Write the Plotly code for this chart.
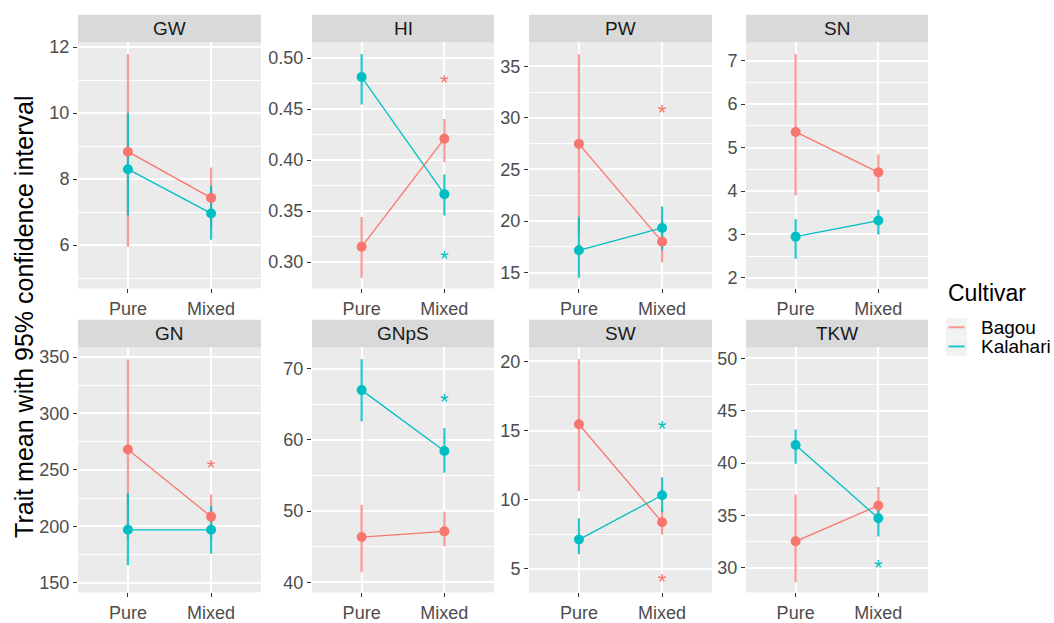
import plotly.graph_objects as go

W, H = 1054, 623

traits = ["GW", "HI", "PW", "SN", "GN", "GNpS", "SW", "TKW"]
systems = ["Pure", "Mixed"]
cultivars = ["Bagou", "Kalahari"]
colors = {"Bagou": "#F8766D", "Kalahari": "#00BFC4"}
bar_colors = {"Bagou": "rgba(248,118,109,0.72)", "Kalahari": "rgba(0,191,196,0.85)"}

# means and 95% CI (Pure, Mixed)
bagou_mean = {"GW": [8.83, 7.43], "HI": [0.315, 0.421], "PW": [27.48, 18.0], "SN": [5.36, 4.43],
              "GN": [268, 208.5], "GNpS": [46.35, 47.15], "SW": [15.45, 8.36], "TKW": [32.51, 35.94]}
bagou_lo = {"GW": [5.95, 6.5], "HI": [0.2845, 0.3978], "PW": [18.8, 16.0], "SN": [3.90, 3.98],
            "GN": [188, 189], "GNpS": [41.4, 45.05], "SW": [10.6, 7.46], "TKW": [28.59, 34.2]}
bagou_hi = {"GW": [11.78, 8.35], "HI": [0.3443, 0.4402], "PW": [36.17, 20.0], "SN": [7.15, 4.84],
            "GN": [348, 228.2], "GNpS": [50.9, 49.9], "SW": [20.16, 9.3], "TKW": [36.98, 37.7]}
kal_mean = {"GW": [8.3, 6.96], "HI": [0.4814, 0.3666], "PW": [17.16, 19.33], "SN": [2.95, 3.32],
            "GN": [196.8, 196.8], "GNpS": [67.0, 58.44], "SW": [7.1, 10.31], "TKW": [41.72, 34.72]}
kal_lo = {"GW": [6.9, 6.16], "HI": [0.4546, 0.3456], "PW": [14.49, 17.17], "SN": [2.44, 3.0],
          "GN": [165.4, 175.6], "GNpS": [62.6, 55.4], "SW": [6.04, 9.12], "TKW": [39.93, 32.98]}
kal_hi = {"GW": [10.0, 7.8], "HI": [0.5039, 0.3859], "PW": [20.45, 21.4], "SN": [3.35, 3.57],
          "GN": [229.4, 217.8], "GNpS": [71.34, 61.66], "SW": [8.65, 11.62], "TKW": [43.2, 36.3]}

# significance asterisks (placed at "Mixed")
bagou_star = {"HI": 0.4745, "PW": 30.3, "GN": 250, "SW": 3.9}
kal_star = {"HI": 0.302, "GNpS": 65.1, "SW": 15.0, "TKW": 29.8}

series = {
    "Bagou": (bagou_mean, bagou_lo, bagou_hi, bagou_star),
    "Kalahari": (kal_mean, kal_lo, kal_hi, kal_star),
}

# layout geometry (pixels)
col_px = [(78, 261), (312, 494), (529, 712), (746, 928)]
row_px = [(38, 288), (348, 597)]
strip_h = 28
y_ranges = {"GW": [4.69, 12.14], "HI": [0.2742, 0.5154], "PW": [13.47, 37.32], "SN": [1.76, 7.42],
            "GN": [141.3, 358.5], "GNpS": [38.57, 73.0], "SW": [3.27, 21.02], "TKW": [27.62, 51.06]}
y_dtick = {"GW": 2, "HI": 0.05, "PW": 5, "SN": 1, "GN": 50, "GNpS": 10, "SW": 5, "TKW": 5}

FONT = "Liberation Sans, Arial, Helvetica, sans-serif"

fig = go.Figure()
layout = dict(width=W, height=H, margin=dict(l=0, r=0, t=0, b=0),
              paper_bgcolor="white", plot_bgcolor="#EBEBEB", showlegend=False,
              font=dict(family=FONT))
shapes = []
annotations = []

for i, t in enumerate(traits):
    r, c = divmod(i, 4)
    n = i + 1
    xa = "x" if n == 1 else f"x{n}"
    ya = "y" if n == 1 else f"y{n}"
    x0, x1 = col_px[c]
    y0, y1 = row_px[r]
    layout[f"xaxis{'' if n == 1 else n}"] = dict(
        domain=[x0 / W, x1 / W], anchor=ya, type="category",
        categoryorder="array", categoryarray=systems, range=[-0.6, 1.6],
        showgrid=True, gridcolor="white", gridwidth=1.6, zeroline=False,
        ticks="outside", ticklen=4, tickcolor="#333333", tickwidth=1,
        tickfont=dict(size=18, color="#4D4D4D", family=FONT), showline=False, fixedrange=True)
    layout[f"yaxis{'' if n == 1 else n}"] = dict(
        domain=[1 - y1 / H, 1 - y0 / H], anchor=xa, range=y_ranges[t],
        dtick=y_dtick[t], tick0=0, tickformat=".2f" if t == "HI" else "",
        showgrid=True, gridcolor="white", gridwidth=1.6, zeroline=False,
        minor=dict(dtick=y_dtick[t] / 2, tick0=0, showgrid=True, gridcolor="white", gridwidth=0.7, ticks=""),
        ticks="outside", ticklen=4, tickcolor="#333333", tickwidth=1,
        tickfont=dict(size=18, color="#4D4D4D", family=FONT), showline=False, fixedrange=True)
    # strip
    shapes.append(dict(type="rect", xref="paper", yref="paper", layer="below",
                       x0=x0 / W, x1=x1 / W, y0=1 - y0 / H, y1=1 - (y0 - strip_h) / H,
                       fillcolor="#D9D9D9", line=dict(width=0)))
    annotations.append(dict(xref="paper", yref="paper", x=(x0 + x1) / 2 / W,
                            y=1 - (y0 - strip_h / 2) / H, text=t, showarrow=False,
                            xanchor="center", yanchor="middle",
                            font=dict(size=19, color="#1A1A1A", family=FONT)))

    # error bars (all series first)
    for cv in cultivars:
        m, lo, hi, st = series[cv]
        xs, ys = [], []
        for k, s in enumerate(systems):
            xs += [s, s, None]
            ys += [lo[t][k], hi[t][k], None]
        fig.add_trace(go.Scatter(x=xs, y=ys, mode="lines", xaxis=xa, yaxis=ya,
                                 line=dict(color=bar_colors[cv], width=2.2),
                                 hoverinfo="skip", showlegend=False))
    # connecting lines
    for cv in cultivars:
        m, lo, hi, st = series[cv]
        fig.add_trace(go.Scatter(x=systems, y=m[t], mode="lines", xaxis=xa, yaxis=ya,
                                 line=dict(color=colors[cv], width=1.3),
                                 showlegend=False, name=cv))
    # points
    for cv in cultivars:
        m, lo, hi, st = series[cv]
        fig.add_trace(go.Scatter(x=systems, y=m[t], mode="markers", xaxis=xa, yaxis=ya,
                                 marker=dict(color=colors[cv], size=10, line=dict(width=0)),
                                 showlegend=False, name=cv))
    # asterisks
    for cv in cultivars:
        st = series[cv][3]
        if t in st:
            fig.add_trace(go.Scatter(x=["Mixed"], y=[st[t]], mode="text", text=["*"],
                                     textposition="middle center", xaxis=xa, yaxis=ya,
                                     textfont=dict(size=22, color=colors[cv], family=FONT),
                                     showlegend=False, hoverinfo="skip"))

# y axis title
annotations.append(dict(xref="paper", yref="paper", x=24 / W, y=1 - 317 / H,
                        text="Trait mean with 95% confidence interval", textangle=-90,
                        showarrow=False, xanchor="center", yanchor="middle",
                        font=dict(size=25, color="black", family=FONT)))

# legend (manual, ggplot-like)
annotations.append(dict(xref="paper", yref="paper", x=946 / W, y=1 - 293 / H, text="Cultivar",
                        showarrow=False, xanchor="left", yanchor="middle",
                        font=dict(size=23, color="black", family=FONT)))
for j, cv in enumerate(cultivars):
    ky = 327.5 + 19.5 * j
    shapes.append(dict(type="rect", xref="paper", yref="paper", layer="below",
                       x0=946 / W, x1=967 / W, y0=1 - (ky + 9.5) / H, y1=1 - (ky - 9.5) / H,
                       fillcolor="#F2F2F2", line=dict(width=0)))
    shapes.append(dict(type="line", xref="paper", yref="paper",
                       x0=948.5 / W, x1=964.5 / W, y0=1 - ky / H, y1=1 - ky / H,
                       line=dict(color=bar_colors[cv], width=2)))
    annotations.append(dict(xref="paper", yref="paper", x=979 / W, y=1 - ky / H, text=cv,
                            showarrow=False, xanchor="left", yanchor="middle",
                            font=dict(size=19, color="black", family=FONT)))

layout["shapes"] = shapes
layout["annotations"] = annotations
fig.update_layout(**layout)
fig.write_html("out.html", config={"displayModeBar": False},
               post_script="document.body.style.margin='0px';document.body.style.overflow='hidden';")
